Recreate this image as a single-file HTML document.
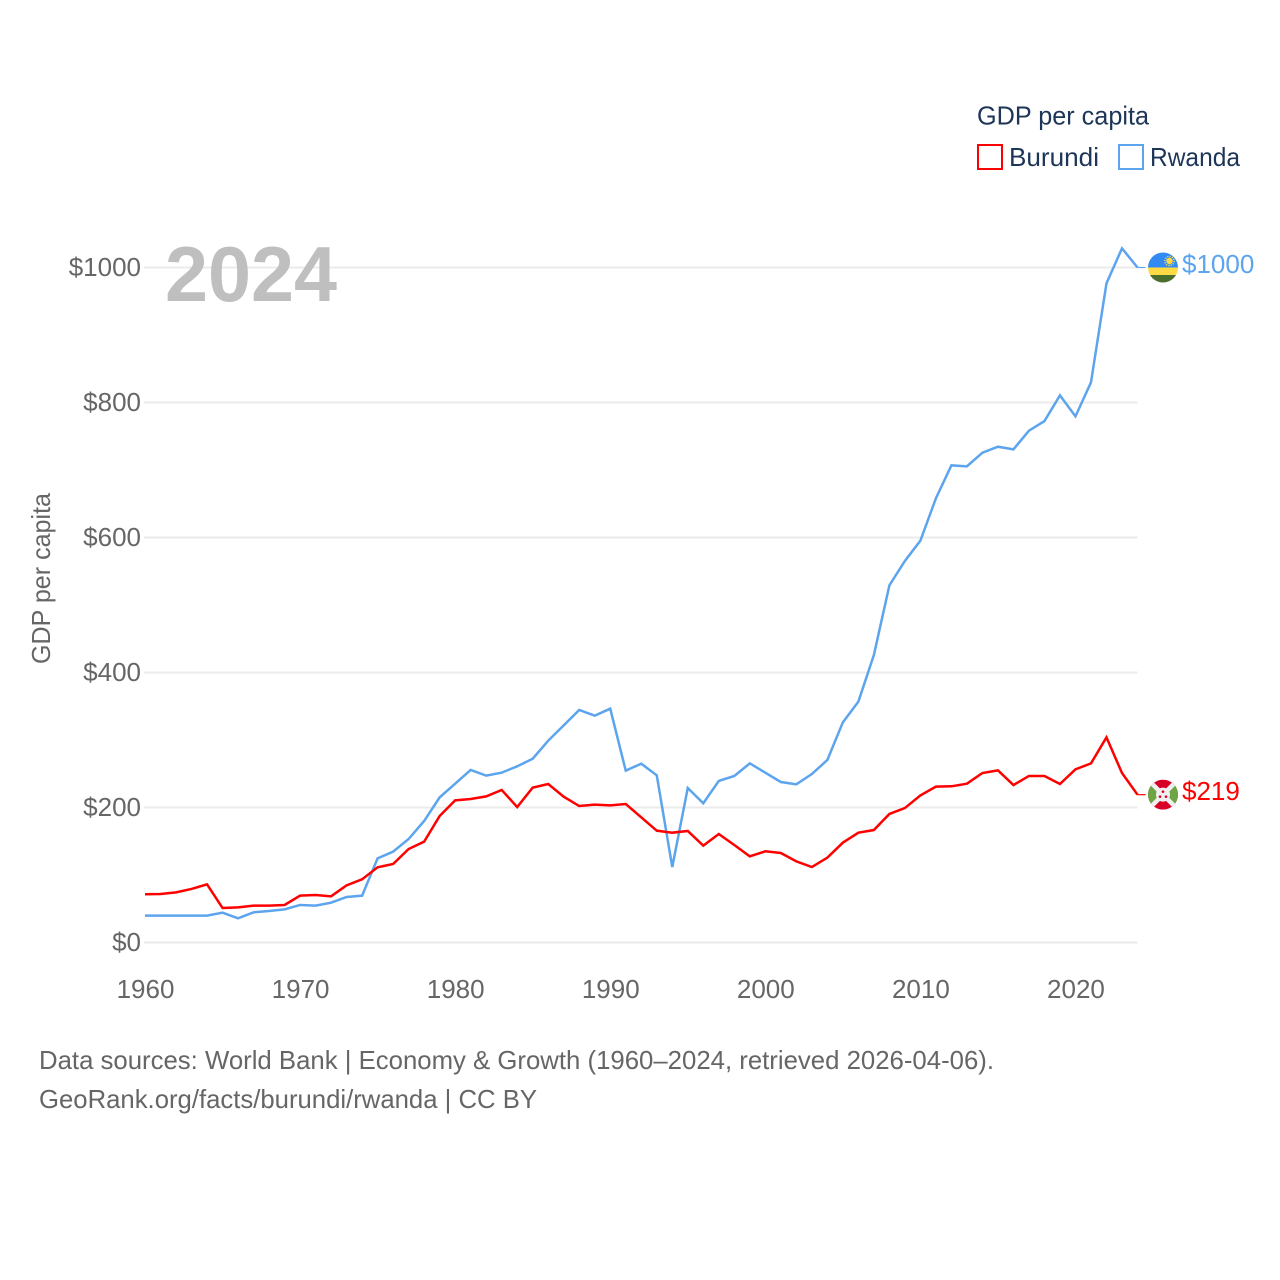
<!DOCTYPE html>
<html lang="en">
<head>
<meta charset="utf-8">
<title>GDP per capita: Burundi and Rwanda</title>
<style>
html,body{margin:0;padding:0;background:#fff}
svg{display:block}
text{font-family:"Liberation Sans",sans-serif}
</style>
</head>
<body>
<svg id="chart" width="1280" height="1280" viewBox="0 0 1280 1280" xmlns="http://www.w3.org/2000/svg">
  <defs>
    <clipPath id="flag-clip"><circle cx="0" cy="0" r="15"></circle></clipPath>
  </defs>
  <rect width="1280" height="1280" fill="#fff"></rect>
  <g id="grid"></g>
  <g id="y-ticks"></g>
  <g id="x-ticks"></g>
  <text x="165" y="301" font-size="78" font-weight="700" fill="#bfbfbf" textLength="172" lengthAdjust="spacingAndGlyphs">2024</text>
  <text transform="translate(50,664) rotate(-90)" font-size="26" fill="#666" textLength="171" lengthAdjust="spacingAndGlyphs">GDP per capita</text>
  <g id="series"></g>

  <g id="flag-rwanda">
    <g clip-path="url(#flag-clip)">
      <rect x="-15" y="-15" width="30" height="15" fill="#338af3"></rect>
      <rect x="-15" y="0" width="30" height="7.5" fill="#ffda44"></rect>
      <rect x="-15" y="7.5" width="30" height="8" fill="#496e2d"></rect>
      <circle cx="6.5" cy="-6.5" r="3.2" fill="#ffda44"></circle>
      <circle cx="6.5" cy="-6.5" r="4.6" fill="none" stroke="#ffda44" stroke-width="1.4" stroke-dasharray="1.2 1.2"></circle>
    </g>
  </g>
  <g id="flag-burundi">
    <g clip-path="url(#flag-clip)">
      <rect x="-15" y="-15" width="30" height="30" fill="#d80027"></rect>
      <polygon points="-15,-15 0,0 -15,15" fill="#6da544"></polygon>
      <polygon points="15,-15 0,0 15,15" fill="#6da544"></polygon>
      <line x1="-15" y1="-15" x2="15" y2="15" stroke="#f0f0f0" stroke-width="4.5"></line>
      <line x1="15" y1="-15" x2="-15" y2="15" stroke="#f0f0f0" stroke-width="4.5"></line>
      <circle cx="0" cy="0" r="7" fill="#f0f0f0"></circle>
      <circle cx="0" cy="-3" r="1.3" fill="#d80027"></circle>
      <circle cx="-3" cy="2" r="1.3" fill="#d80027"></circle>
      <circle cx="3" cy="2" r="1.3" fill="#d80027"></circle>
    </g>
  </g>

  <g>
    <text x="977" y="124.5" font-size="26" fill="#1d3557" textLength="172" lengthAdjust="spacingAndGlyphs">GDP per capita</text>
    <g>
      <rect x="978" y="145" width="24" height="24" fill="#fff" stroke="#ff0000" stroke-width="2"></rect>
      <text x="1009" y="166" font-size="26" fill="#1d3557" textLength="90" lengthAdjust="spacingAndGlyphs">Burundi</text>
    </g>
    <g>
      <rect x="1119" y="145" width="24" height="24" fill="#fff" stroke="#5ca5ee" stroke-width="2"></rect>
      <text x="1150" y="166" font-size="26" fill="#1d3557" textLength="90" lengthAdjust="spacingAndGlyphs">Rwanda</text>
    </g>
  </g>

  <text x="39" y="1069" font-size="26" fill="#666" textLength="955" lengthAdjust="spacingAndGlyphs">Data sources: World Bank | Economy &amp; Growth (1960–2024, retrieved 2026-04-06).</text>
  <text x="39" y="1108" font-size="26" fill="#666" textLength="498" lengthAdjust="spacingAndGlyphs">GeoRank.org/facts/burundi/rwanda | CC BY</text>
</svg>

<script>
var years = [1960,1961,1962,1963,1964,1965,1966,1967,1968,1969,1970,1971,1972,1973,1974,1975,1976,1977,1978,1979,1980,1981,1982,1983,1984,1985,1986,1987,1988,1989,1990,1991,1992,1993,1994,1995,1996,1997,1998,1999,2000,2001,2002,2003,2004,2005,2006,2007,2008,2009,2010,2011,2012,2013,2014,2015,2016,2017,2018,2019,2020,2021,2022,2023,2024];
var burundiValues = [71.4,71.9,74.3,79.3,86.2,51.1,52.1,54.6,54.6,55.6,69.4,70.4,68.4,84.7,93.6,111.4,116.3,138.5,149.4,187.4,210.6,212.6,216.5,226,200.7,229.4,234.8,216,202.2,204.2,203.2,205.2,185.4,165.7,162.7,165.2,143.5,160.7,144.4,127.6,135.1,132.6,120.2,111.8,125.7,147.9,162.7,166.6,190.4,199.2,218,230.9,231.4,235.3,251.1,255,233.3,246.7,246.7,234.8,256.5,265.4,303.9,251.1,219];
var rwandaValues = [39.8,39.8,39.8,39.8,39.8,44.2,35.8,44.7,46.7,49.1,55.6,54.6,59,67.4,69.4,124.7,134.6,153.3,180,215,235.3,255.6,247.2,251.6,261,272.3,299,321.7,344.5,336,346.4,254.6,264.9,247.7,111.8,228.9,206.2,239.3,246.7,265.4,251.6,237.8,234.3,249.6,270.4,326.2,356.8,425.9,529.1,565.2,595.3,658,706.9,705.4,725.6,734.5,730.6,758.2,772.5,810.6,779.5,829.8,976.5,1028.4,1000];
var yTickValues = [0,200,400,600,800,1000];
var yTickLabels = ["$0","$200","$400","$600","$800","$1000"];
var xTickValues = [1960,1970,1980,1990,2000,2010,2020];
var xTickLabels = ["1960","1970","1980","1990","2000","2010","2020"];

var SVG_NS = "http://www.w3.org/2000/svg";
var X0 = 145, X1 = 1137.5, Y0 = 942.5, Y1 = 267.5;
var BURUNDI_COLOR = "#ff0000", RWANDA_COLOR = "#5ca5ee";

function xScale(year) {
  return X0 + (year - years[0]) / (years[years.length - 1] - years[0]) * (X1 - X0);
}
function yScale(value) {
  return Y0 + value / 1000 * (Y1 - Y0);
}
function make(tag, attrs, parent) {
  var el = document.createElementNS(SVG_NS, tag);
  for (var k in attrs) el.setAttribute(k, attrs[k]);
  parent.appendChild(el);
  return el;
}

var gridGroup = document.getElementById("grid");
var yGroup = document.getElementById("y-ticks");
var xGroup = document.getElementById("x-ticks");
var seriesGroup = document.getElementById("series");
var chart = document.getElementById("chart");

yTickValues.forEach(function (v, i) {
  var line = make("line", {x1: X0 - 1, x2: X1, y1: yScale(v), y2: yScale(v), stroke: "#ebebeb", "stroke-width": 2}, gridGroup);
  
  
  var label = make("text", {x: 141, y: yScale(v) + 8.5, "text-anchor": "end", "font-size": 26, fill: "#666"}, yGroup);
  label.textContent = yTickLabels[i];
  
  
});

xTickValues.forEach(function (v, i) {
  var label = make("text", {x: xScale(v) + 0.5, y: 998, "text-anchor": "middle", "font-size": 26, fill: "#666"}, xGroup);
  label.textContent = xTickLabels[i];
  
  
});

function linePoints(values) {
  return values.map(function (v, i) {
    return xScale(years[i]).toFixed(2) + "," + yScale(v).toFixed(2);
  }).join(" ");
}

var rwandaLine = make("polyline", {points: linePoints(rwandaValues), fill: "none", stroke: RWANDA_COLOR, "stroke-width": 2.5}, seriesGroup);



var burundiLine = make("polyline", {points: linePoints(burundiValues), fill: "none", stroke: BURUNDI_COLOR, "stroke-width": 2.5}, seriesGroup);



var lastYear = years[years.length - 1];
var rwandaLast = rwandaValues[rwandaValues.length - 1];
var burundiLast = burundiValues[burundiValues.length - 1];

var rwandaConnector = make("line", {x1: xScale(lastYear), x2: xScale(lastYear) + 8, y1: yScale(rwandaLast), y2: yScale(rwandaLast), stroke: RWANDA_COLOR, "stroke-width": 1.2}, seriesGroup);



var burundiConnector = make("line", {x1: xScale(lastYear), x2: xScale(lastYear) + 8, y1: yScale(burundiLast), y2: yScale(burundiLast), stroke: BURUNDI_COLOR, "stroke-width": 1.2}, seriesGroup);



document.getElementById("flag-rwanda").setAttribute("transform", "translate(1163," + yScale(rwandaLast) + ")");
document.getElementById("flag-burundi").setAttribute("transform", "translate(1163," + yScale(burundiLast) + ")");

var rwandaValueLabel = make("text", {x: 1182, y: yScale(rwandaLast) + 5.5, "font-size": 26, fill: RWANDA_COLOR}, chart);
rwandaValueLabel.textContent = "$" + Math.round(rwandaLast);



var burundiValueLabel = make("text", {x: 1182, y: yScale(burundiLast) + 5.5, "font-size": 26, fill: BURUNDI_COLOR}, chart);
burundiValueLabel.textContent = "$" + Math.round(burundiLast);


</script>
</body>
</html>
